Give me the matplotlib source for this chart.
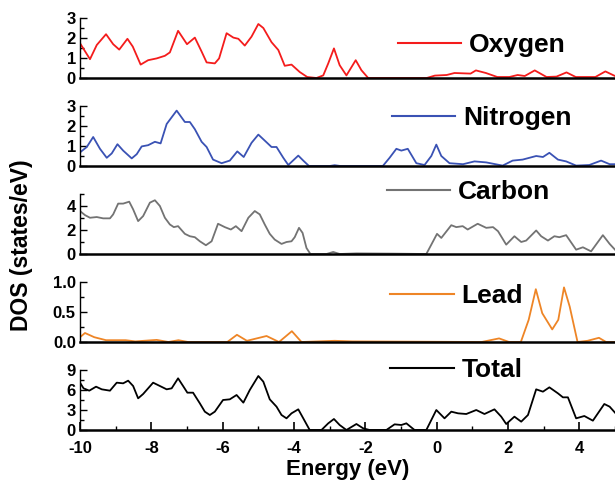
import matplotlib
matplotlib.use('Agg')
import matplotlib.pyplot as plt
import numpy as np

plt.rcParams['font.family'] = ['Liberation Sans', 'DejaVu Sans']
plt.rcParams['font.weight'] = 'bold'
plt.rcParams['axes.unicode_minus'] = False

# ---- data (energy in eV, DOS in states/eV) ----
oxygen_e = [-10, -9.72, -9.53, -9.27, -9.07, -8.9, -8.67, -8.52, -8.3, -8.09, -7.85, -7.62,
            -7.48, -7.25, -7.0, -6.78, -6.59, -6.45, -6.22, -6.1, -5.89, -5.7, -5.56, -5.38,
            -5.19, -5.0, -4.86, -4.63, -4.44, -4.26, -4.07, -3.84, -3.63, -3.37, -3.18, -3.04,
            -2.88, -2.72, -2.53, -2.27, -2.11, -1.92, -0.28, -0.05, 0.28, 0.5, 0.95, 1.1,
            1.38, 1.7, 2.04, 2.27, 2.47, 2.75, 3.08, 3.36, 3.64, 3.9, 4.45, 4.73, 5.0]
oxygen_dos = [1.74, 0.94, 1.65, 2.19, 1.69, 1.42, 1.96, 1.57, 0.67, 0.89, 0.98, 1.11,
              1.28, 2.36, 1.69, 2.02, 1.32, 0.78, 0.73, 0.98, 2.24, 2.02, 1.96, 1.62,
              2.07, 2.70, 2.5, 1.79, 1.40, 0.61, 0.67, 0.30, 0.05, 0.0, 0.13, 0.73,
              1.48, 0.64, 0.13, 0.89, 0.39, 0.0, 0.0, 0.12, 0.15, 0.25, 0.22, 0.38,
              0.25, 0.05, 0.05, 0.15, 0.1, 0.38, 0.05, 0.07, 0.28, 0.05, 0.05, 0.33, 0.1]

nitrogen_e = [-10, -9.81, -9.63, -9.44, -9.25, -9.11, -8.95, -8.79, -8.55, -8.41, -8.27, -8.09,
              -7.9, -7.74, -7.57, -7.29, -7.06, -6.92, -6.78, -6.59, -6.45, -6.27, -6.03, -5.8,
              -5.59, -5.41, -5.19, -5.0, -4.82, -4.63, -4.49, -4.3, -4.16, -3.88, -3.74, -3.58,
              -3.0, -2.86, -2.7, -1.51, -1.32, -1.13, -0.99, -0.81, -0.57, -0.34, -0.15, -0.01,
              0.13, 0.36, 0.74, 1.06, 1.39, 1.85, 2.13, 2.41, 2.79, 2.98, 3.16, 3.4, 3.63,
              3.91, 4.28, 4.61, 4.85, 5.0]
nitrogen_dos = [0.68, 0.95, 1.45, 0.86, 0.41, 0.63, 1.09, 0.77, 0.38, 0.59, 0.98, 1.04,
                1.21, 1.13, 2.1, 2.77, 2.2, 2.2, 1.84, 1.21, 0.95, 0.32, 0.14, 0.27,
                0.73, 0.45, 1.16, 1.57, 1.27, 0.95, 0.95, 0.41, 0.05, 0.52, 0.27, 0.0,
                0.0, 0.04, 0.0, 0.0, 0.41, 0.86, 0.77, 0.86, 0.14, 0.05, 0.5, 1.07,
                0.5, 0.14, 0.09, 0.23, 0.18, 0.02, 0.27, 0.32, 0.5, 0.45, 0.66, 0.32, 0.23,
                0.02, 0.05, 0.27, 0.09, 0.09]

carbon_e = [-10, -9.86, -9.72, -9.53, -9.35, -9.16, -9.07, -8.93, -8.79, -8.62, -8.51, -8.37,
            -8.23, -8.04, -7.9, -7.76, -7.62, -7.48, -7.37, -7.25, -7.06, -6.92, -6.78, -6.64,
            -6.47, -6.31, -6.13, -5.94, -5.77, -5.63, -5.47, -5.28, -5.1, -4.96, -4.82, -4.68,
            -4.54, -4.35, -4.21, -4.07, -3.98, -3.86, -3.76, -3.65, -3.54, -3.09, -2.9, -2.72,
            -2.25, -1.23, -0.29, -0.15, 0.01, 0.13, 0.41, 0.55, 0.73, 0.87, 1.15, 1.39, 1.58,
            1.72, 1.95, 2.18, 2.37, 2.51, 2.79, 2.93, 3.12, 3.3, 3.44, 3.63, 3.91, 4.1, 4.33,
            4.66, 4.85, 5.0]
carbon_dos = [3.58, 3.24, 3.02, 3.08, 2.97, 2.97, 3.3, 4.2, 4.2, 4.36, 3.72, 2.74,
              3.16, 4.28, 4.48, 4.0, 3.02, 2.46, 2.24, 2.32, 1.68, 1.48, 1.4, 1.06,
              0.73, 1.06, 2.52, 2.24, 2.04, 2.32, 1.9, 3.02, 3.58, 3.3, 2.46, 1.68,
              1.2, 0.84, 1.0, 1.06, 1.4, 2.18, 1.76, 0.5, 0.0, 0.0, 0.17, 0.0,
              0.05, 0.03, 0.0, 0.78, 1.68, 1.34, 2.4, 2.24, 2.32, 2.04, 2.52, 2.18, 2.24,
              1.9, 0.78, 1.48, 1.0, 1.12, 1.96, 1.48, 1.12, 1.48, 1.4, 1.57, 0.36, 0.56, 0.22,
              1.57, 0.84, 0.36]

lead_e = [-10, -9.86, -9.6, -9.27, -8.72, -8.45, -7.85, -7.52, -7.24, -6.97, -5.87, -5.6,
          -5.32, -4.77, -4.42, -4.06, -3.79, -2.86, -2.37, 1.26, 1.75, 2.03, 2.36, 2.58,
          2.78, 2.96, 3.24, 3.41, 3.57, 3.73, 3.95, 4.23, 4.55, 4.75, 5.0]
lead_dos = [0.08, 0.15, 0.08, 0.03, 0.03, 0.01, 0.035, 0.0, 0.03, 0.0, 0.0, 0.12,
            0.02, 0.1, 0.0, 0.18, 0.0, 0.02, 0.01, 0.0, 0.06, 0.0, 0.0, 0.37,
            0.88, 0.48, 0.21, 0.37, 0.91, 0.59, 0.0, 0.02, 0.07, 0.0, 0.0]

total_e = [-10, -9.9, -9.74, -9.55, -9.39, -9.16, -8.97, -8.79, -8.65, -8.51, -8.37, -8.23,
           -7.95, -7.76, -7.57, -7.43, -7.25, -7.11, -6.99, -6.83, -6.64, -6.5, -6.36, -6.22,
           -5.99, -5.8, -5.61, -5.42, -5.24, -5.0, -4.86, -4.68, -4.49, -4.35, -4.21, -4.07,
           -3.88, -3.74, -3.56, -3.23, -3.04, -2.88, -2.72, -2.53, -2.25, -2.06, -1.88, -1.41,
           -1.18, -0.99, -0.85, -0.62, -0.29, -0.15, -0.01, 0.22, 0.41, 0.6, 0.83, 1.11, 1.34,
           1.62, 1.81, 1.95, 2.18, 2.37, 2.56, 2.79, 2.98, 3.16, 3.4, 3.54, 3.68, 3.91, 4.14,
           4.38, 4.7, 4.85, 5.0]
total_dos = [7.1, 6.25, 5.9, 6.5, 6.1, 5.9, 7.1, 7.0, 7.4, 6.6, 4.75, 5.4,
             7.1, 6.6, 6.1, 6.25, 7.75, 6.6, 5.6, 5.6, 4.0, 2.75, 2.25, 2.75,
             4.5, 4.6, 5.25, 4.1, 6.0, 8.1, 7.25, 4.6, 3.5, 2.25, 1.75, 2.5,
             3.1, 1.75, 0.0, 0.0, 1.0, 1.65, 0.75, 0.0, 0.9, 0.25, 0.0, 0.0,
             0.85, 0.75, 1.0, 0.0, 0.0, 1.5, 3.0, 1.75, 2.75, 2.5, 2.4, 3.0, 2.4,
             3.1, 2.0, 0.9, 2.0, 1.25, 2.25, 6.1, 5.75, 6.4, 5.5, 4.9, 4.9, 1.75, 2.1,
             1.4, 3.9, 3.5, 2.6]

names = ['Oxygen', 'Nitrogen', 'Carbon', 'Lead', 'Total']
colors = ['#f41c1c', '#3a52b4', '#737373', '#ee8526', '#000000']
energies = [oxygen_e, nitrogen_e, carbon_e, lead_e, total_e]
dos_sets = [oxygen_dos, nitrogen_dos, carbon_dos, lead_dos, total_dos]
ylims = [3.0, 3.0, 5.0, 1.0, 9.0]
yticks = [[0, 1, 2, 3], [0, 1, 2, 3], [0, 2, 4], [0.0, 0.5, 1.0], [0, 3, 6, 9]]
legend_pos = [(0.594, 0.55), (0.583, 0.80), (0.574, 1.03), (0.58, 0.77), (0.58, 1.0)]

W, H = 615, 486
fig = plt.figure(figsize=(W / 100, H / 100), dpi=100)

bottoms_px = [78, 166, 254, 342, 430]
ax_h = 60
left_px = 80
for i in range(5):
    ax = fig.add_axes([left_px / W, 1 - bottoms_px[i] / H, (W - left_px) / W, ax_h / H])
    ax.plot(energies[i], dos_sets[i], color=colors[i], linewidth=1.3, label=names[i])
    ax.set_xlim(-10, 5)
    ax.set_ylim(0, ylims[i])
    ax.set_yticks(yticks[i])
    step = yticks[i][1] - yticks[i][0]
    ax.set_yticks(np.arange(0, ylims[i] + 1e-9, step / 2), minor=True)
    if i == 3:
        ax.set_yticklabels(['0.0', '0.5', '1.0'])
    ax.spines['top'].set_visible(False)
    ax.spines['right'].set_visible(False)
    ax.spines['left'].set_linewidth(1.0)
    ax.spines['bottom'].set_linewidth(1.8)
    ax.tick_params(axis='y', direction='in', length=5, width=1, labelsize=12, pad=3)
    ax.tick_params(axis='y', which='minor', direction='in', length=3, width=1)
    ax.set_xticks(range(-10, 6, 2))
    ax.set_xticks(range(-9, 6, 2), minor=True)
    if i < 4:
        ax.tick_params(axis='x', which='both', bottom=False, labelbottom=False)
    else:
        ax.tick_params(axis='x', direction='in', length=6, width=1.2, labelsize=12, pad=8)
        ax.tick_params(axis='x', which='minor', direction='in', length=3, width=1)
        ax.set_xlabel('Energy (eV)', fontsize=16, fontweight='bold', labelpad=2)
    for lab in ax.get_xticklabels() + ax.get_yticklabels():
        lab.set_fontweight('bold')
    leg = ax.legend(loc='center left', bbox_to_anchor=legend_pos[i], frameon=False,
                    handlelength=2.4, handletextpad=0.3, borderpad=0, borderaxespad=0,
                    prop={'size': 19, 'weight': 'bold'})
    leg.get_lines()[0].set_linewidth(1.5)

fig.text(22 / W, 1 - 245 / H, 'DOS (states/eV)', rotation=90, ha='center', va='center',
         fontsize=16.5, fontweight='bold')

fig.savefig('out.png', dpi=100)
